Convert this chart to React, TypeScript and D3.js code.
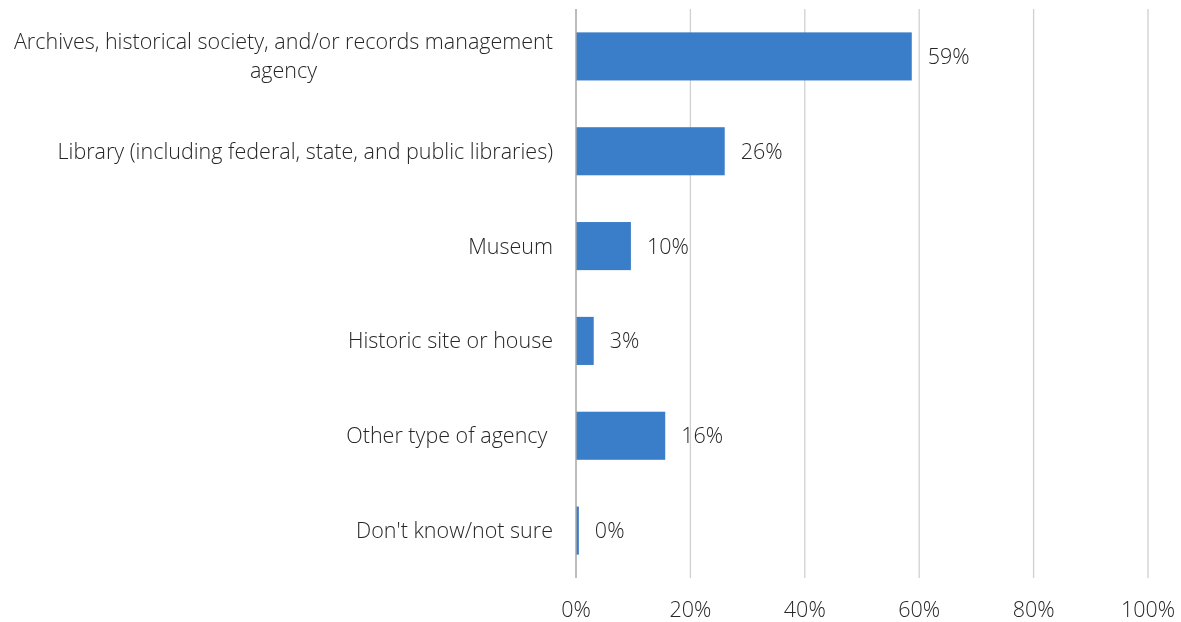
import React, { useRef, useEffect } from 'react';
import * as d3 from 'd3';

// chart data
const categories = [
  ['Archives, historical society, and/or records management', 'agency'],
  ['Library (including federal, state, and public libraries)'],
  ['Museum'],
  ['Historic site or house'],
  ['Other type of agency '],
  ["Don't know/not sure"],
];
const values = [0.587, 0.26, 0.096, 0.031, 0.156, 0.005];
const valueLabels = ['59%', '26%', '10%', '3%', '16%', '0%'];
const xTicks = [0, 0.2, 0.4, 0.6, 0.8, 1];

const FONT = "'Open Sans', sans-serif";

const App = () => {
  const ref = useRef<HTMLDivElement>(null);

  useEffect(() => {
    d3.select(ref.current).selectAll('*').remove();
    document.body.style.overflow = 'hidden';
    const width = 1181;
    const height = 622;
    const margin = { top: 9, right: 33, bottom: 44, left: 576 };

    const svg = d3.select(ref.current)
      .append('svg')
      .attr('width', width)
      .attr('height', height)
      .style('display', 'block')
      .style('font-family', FONT);

    const x = d3.scaleLinear()
      .domain([0, 1])
      .range([margin.left, width - margin.right]);
    const ids = categories.map((_, i) => i);
    const y = d3.scaleBand<number>()
      .domain(ids)
      .range([margin.top, height - margin.bottom])
      .paddingInner(0.493)
      .paddingOuter(0.2465);

    // gridlines
    svg.append('g')
      .selectAll('line')
      .data(xTicks.slice(1))
      .join('line')
      .attr('x1', d => x(d))
      .attr('x2', d => x(d))
      .attr('y1', margin.top)
      .attr('y2', height - margin.bottom)
      .attr('stroke', '#d0d0d0')
      .attr('stroke-width', 1.3);

    // bars
    svg.append('g')
      .selectAll('rect')
      .data(values)
      .join('rect')
      .attr('x', x(0))
      .attr('y', (_, i) => y(i)!)
      .attr('width', d => x(d) - x(0))
      .attr('height', y.bandwidth())
      .attr('fill', '#3a7dc9');

    // vertical axis line
    svg.append('line')
      .attr('x1', x(0))
      .attr('x2', x(0))
      .attr('y1', margin.top)
      .attr('y2', height - margin.bottom)
      .attr('stroke', '#a6a6a6')
      .attr('stroke-width', 1.5);

    const styleText = (sel: any) => sel
      .attr('fill', '#262626')
      .style('font-size', '21.5px')
      .style('font-weight', 300);

    // category labels
    const cat = svg.append('g')
      .selectAll('text')
      .data(categories)
      .join('text')
      .attr('x', x(0) - 23)
      .attr('y', (d, i) => y(i)! + y.bandwidth() / 2 - (d.length - 1) * 14.5)
      .attr('text-anchor', 'end')
      .style('white-space', 'pre')
      .call(styleText);
    cat.each(function (d) {
      const t = d3.select(this);
      d.forEach((line, j) => {
        t.append('tspan')
          .attr('x', x(0) - 23)
          .attr('dy', j === 0 ? '0.35em' : 29)
          .attr('text-anchor', j === 0 ? 'end' : 'middle')
          .text(line);
      });
    });
    // center the wrapped second line under the first
    cat.each(function (d) {
      if (d.length < 2) return;
      const t = d3.select(this);
      const first = t.select('tspan').node() as SVGTextContentElement;
      const w = first.getComputedTextLength();
      t.selectAll('tspan').filter((_, j) => j > 0)
        .attr('x', x(0) - 23 - w / 2);
    });

    // value labels
    svg.append('g')
      .selectAll('text')
      .data(values)
      .join('text')
      .attr('x', d => x(d) + 16)
      .attr('y', (_, i) => y(i)! + y.bandwidth() / 2)
      .attr('dy', '0.35em')
      .call(styleText)
      .text((_, i) => valueLabels[i]);

    // x axis tick labels
    svg.append('g')
      .selectAll('text')
      .data(xTicks)
      .join('text')
      .attr('x', d => x(d))
      .attr('y', 609)
      .attr('dy', '0.35em')
      .attr('text-anchor', 'middle')
      .call(styleText)
      .text(d => d3.format('.0%')(d));
  }, []);

  return (
    <div
      ref={ref}
      style={{ position: 'fixed', left: 0, top: 0, width: 1181, height: 622, overflow: 'hidden' }}
    />
  );
};

export default App;
